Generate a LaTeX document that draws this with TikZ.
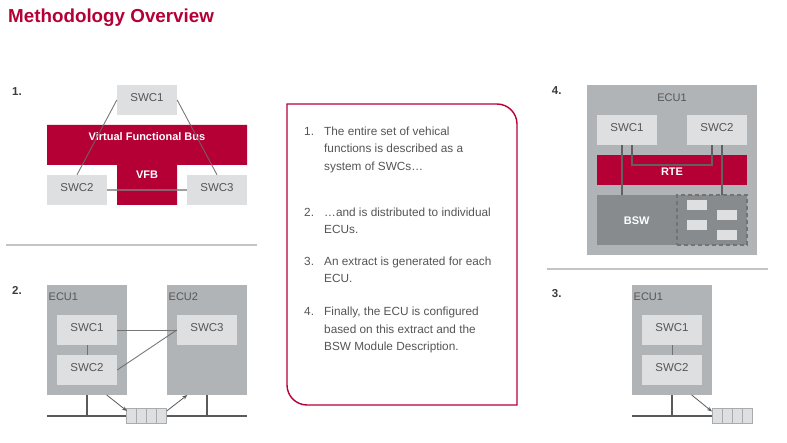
\documentclass[tikz,border=0pt]{standalone}
\usepackage{fontspec}
\setmainfont{Liberation Sans}
\usetikzlibrary{arrows.meta}
\definecolor{crim}{HTML}{B50036}
\definecolor{swcg}{HTML}{DDDFE1}
\definecolor{ecug}{HTML}{B1B4B7}
\definecolor{bswg}{HTML}{878B8E}
\definecolor{lineg}{HTML}{6A6A6A}
\definecolor{txtg}{HTML}{555555}
\definecolor{sepg}{HTML}{C2C5C8}
\definecolor{busg}{HTML}{5A5A5A}
\definecolor{numg}{HTML}{3C3C3C}
\definecolor{cellg}{HTML}{A8ACAF}
\tikzset{
 swc/.style={fill=swcg, minimum width=60pt, minimum height=30pt, inner sep=0pt, text=txtg,
   font=\fontsize{11.5}{13}\selectfont, text height=8pt, text depth=5pt},
 ecu/.style={fill=ecug, minimum width=80pt, minimum height=110pt, inner sep=0pt},
 ecul/.style={text=txtg, font=\fontsize{11}{13}\selectfont, inner sep=0pt},
 conn/.style={draw=lineg, line width=0.9pt, opacity=0.9},
 rconn/.style={draw=black!62, line width=1.2pt},
 hconn/.style={draw=black!50, line width=1.5pt, opacity=0.75},
 bus/.style={draw=busg, line width=2pt},
 msg/.style={fill=swcg, draw=cellg, minimum width=40pt, minimum height=15pt, inner sep=0pt, line width=0.6pt},
 cell/.style={draw=cellg, line width=0.6pt},
 arr/.style={draw=busg, line width=0.8pt, -{Stealth[length=5pt,width=4pt]}},
 num/.style={font=\fontsize{11.5}{13}\selectfont\bfseries, text=numg, inner sep=0pt},
 sepl/.style={draw=sepg, line width=2pt},
 item/.style={font=\fontsize{11.8}{14}\selectfont, text=txtg, inner sep=0pt, anchor=base west},
 whitelbl/.style={text=white, font=\fontsize{11}{13}\selectfont\bfseries, inner sep=0pt},
 smallbox/.style={fill=swcg, minimum width=20pt, minimum height=10pt, inner sep=0pt},
}
\begin{document}
\begin{tikzpicture}[x=1pt,y=-1pt]
\useasboundingbox (0,0) rectangle (787,443);
\fill[white] (0,0) rectangle (787,443);

% title
\node[anchor=base west, inner sep=0pt, text=crim, font=\fontsize{18.8}{22}\selectfont\bfseries] (title) at (8,22.7) {Methodology Overview};

% ---------------- Panel 1
\node[num, anchor=west] (n1) at (12,92) {1.};
\fill[crim] (47,125) -- (247,125) -- (247,165) -- (177,165) -- (177,205) -- (117,205) -- (117,165) -- (47,165) -- cycle;
\node[whitelbl] (vfbbus) at (147,137) {Virtual Functional Bus};
\node[whitelbl] (vfb) at (147,174.3) {VFB};
\node[swc] (p1s1) at (147,100) {SWC1};
\node[swc] (p1s2) at (77,190) {SWC2};
\node[swc] (p1s3) at (217,190) {SWC3};
\draw[conn] (p1s1.west) -- (p1s2.north);
\draw[conn] (p1s1.east) -- (p1s3.north);
\draw[hconn] (p1s2.east) -- (p1s3.west);

\draw[sepl] (6,244.7) -- (257,244.7);

% ---------------- Panel 2
\node[num, anchor=west] (n2) at (12,290.5) {2.};
\node[ecu] (p2e1) at (87,340) {};
\node[ecul, anchor=west] (p2e1l) at (48.5,297) {ECU1};
\node[ecu] (p2e2) at (207,340) {};
\node[ecul, anchor=west] (p2e2l) at (168.5,297) {ECU2};
\node[swc] (p2s1) at (87,330) {SWC1};
\node[swc] (p2s2) at (87,370) {SWC2};
\node[swc] (p2s3) at (207,330) {SWC3};
\draw[conn] (p2s1.south) -- (p2s2.north);
\draw[conn] (p2s1.east) -- (p2s3.west);
\draw[conn] (p2s2.east) -- (p2s3.west);
\coordinate (p2busL) at (47,415.7);
\coordinate (p2busR) at (247,415.7);
\draw[bus] (p2busL) -- (p2busR);
\draw[bus] (p2e1.south) -- (p2e1.south |- p2busL);
\draw[bus] (p2e2.south) -- (p2e2.south |- p2busL);
\node[msg] (p2m) at (146.7,415.8) {};
\foreach \d in {-10,0,10} \draw[cell] ([xshift=\d pt]p2m.north) -- ([xshift=\d pt]p2m.south);
\coordinate (p2a1s) at (106.7,395);
\coordinate (p2a1e) at (127,411);
\coordinate (p2a2s) at (166.7,411);
\coordinate (p2a2e) at (187.3,395);
\draw[arr] (p2a1s) -- (p2a1e);
\draw[arr] (p2a2s) -- (p2a2e);

% ---------------- Text box
\draw[crim, line width=1.4pt] (287,104) -- (497,104) .. controls (508,104) and (517,113) .. (517,124)
  -- (517,405) -- (307,405) .. controls (296,405) and (287,396) .. (287,385) -- cycle;
\node[item] (i1n) at (304,135.7) {1.};
\node[item] (i1a) at (324,135.7) {The entire set of vehical};
\node[item] (i1b) at (324,152.9) {functions is described as a};
\node[item] (i1c) at (324,170.1) {system of SWCs…};
\node[item] (i2n) at (304,216.5) {2.};
\node[item] (i2a) at (324,216.5) {…and is distributed to individual};
\node[item] (i2b) at (324,233.7) {ECUs.};
\node[item] (i3n) at (304,265.8) {3.};
\node[item] (i3a) at (324,265.8) {An extract is generated for each};
\node[item] (i3b) at (324,283) {ECU.};
\node[item] (i4n) at (304,316) {4.};
\node[item] (i4a) at (324,316) {Finally, the ECU is configured};
\node[item] (i4b) at (324,333.2) {based on this extract and the};
\node[item] (i4c) at (324,350.4) {BSW Module Description.};

% ---------------- Panel 4
\node[num, anchor=west] (n4) at (551.7,90.5) {4.};
\node[fill=ecug, minimum width=170pt, minimum height=170pt, inner sep=0pt] (p4e) at (672,170) {};
\node[ecul] (p4el) at (672,98) {ECU1};
\node[swc] (p4s1) at (627,130) {SWC1};
\node[swc] (p4s2) at (717,130) {SWC2};
\node[fill=crim, minimum width=150pt, minimum height=30pt, inner sep=0pt] (rte) at (672,170) {};
\node[whitelbl] (rtel) at (672,172) {RTE};
\node[fill=bswg, minimum width=150pt, minimum height=50pt, inner sep=0pt] (bsw) at (672,220) {};
\node[whitelbl] (bswl) at (636.7,220.5) {BSW};
\node[fill=bswg, draw=black!55, dashed, dash pattern=on 4pt off 3pt, line width=1.1pt, minimum width=70pt, minimum height=50pt, inner sep=0pt] (mods) at (712,220) {};
\node[smallbox] (m1) at (697,205) {};
\node[smallbox] (m2) at (697,225) {};
\node[smallbox] (m3) at (727,215) {};
\node[smallbox] (m4) at (727,235) {};
\coordinate (p4c1) at (622,145);
\coordinate (p4c2) at (632,145);
\coordinate (p4c3) at (712,145);
\coordinate (p4c4) at (722,145);
\draw[rconn] (p4c1) -- (p4c1 |- bsw.north);
\draw[rconn] (p4c4) -- (p4c4 |- bsw.north);
\draw[rconn] (p4c2) -- (632,165) -- (712,165) -- (p4c3);

\draw[sepl] (546.7,269.5) -- (767.7,269.5);

% ---------------- Panel 3
\node[num, anchor=west] (n3) at (551.7,293.5) {3.};
\node[ecu] (p3e) at (672,340) {};
\node[ecul, anchor=west] (p3el) at (633.5,297) {ECU1};
\node[swc] (p3s1) at (672,330) {SWC1};
\node[swc] (p3s2) at (672,370) {SWC2};
\draw[conn] (p3s1.south) -- (p3s2.north);
\coordinate (p3busL) at (632,415.7);
\coordinate (p3busR) at (712,415.7);
\draw[bus] (p3busL) -- (p3busR);
\draw[bus] (p3e.south) -- (p3e.south |- p3busL);
\node[msg] (p3m) at (732,415.8) {};
\foreach \d in {-10,0,10} \draw[cell] ([xshift=\d pt]p3m.north) -- ([xshift=\d pt]p3m.south);
\coordinate (p3as) at (691.7,395);
\coordinate (p3ae) at (712,411.5);
\draw[arr] (p3as) -- (p3ae);
\end{tikzpicture}
\end{document}
